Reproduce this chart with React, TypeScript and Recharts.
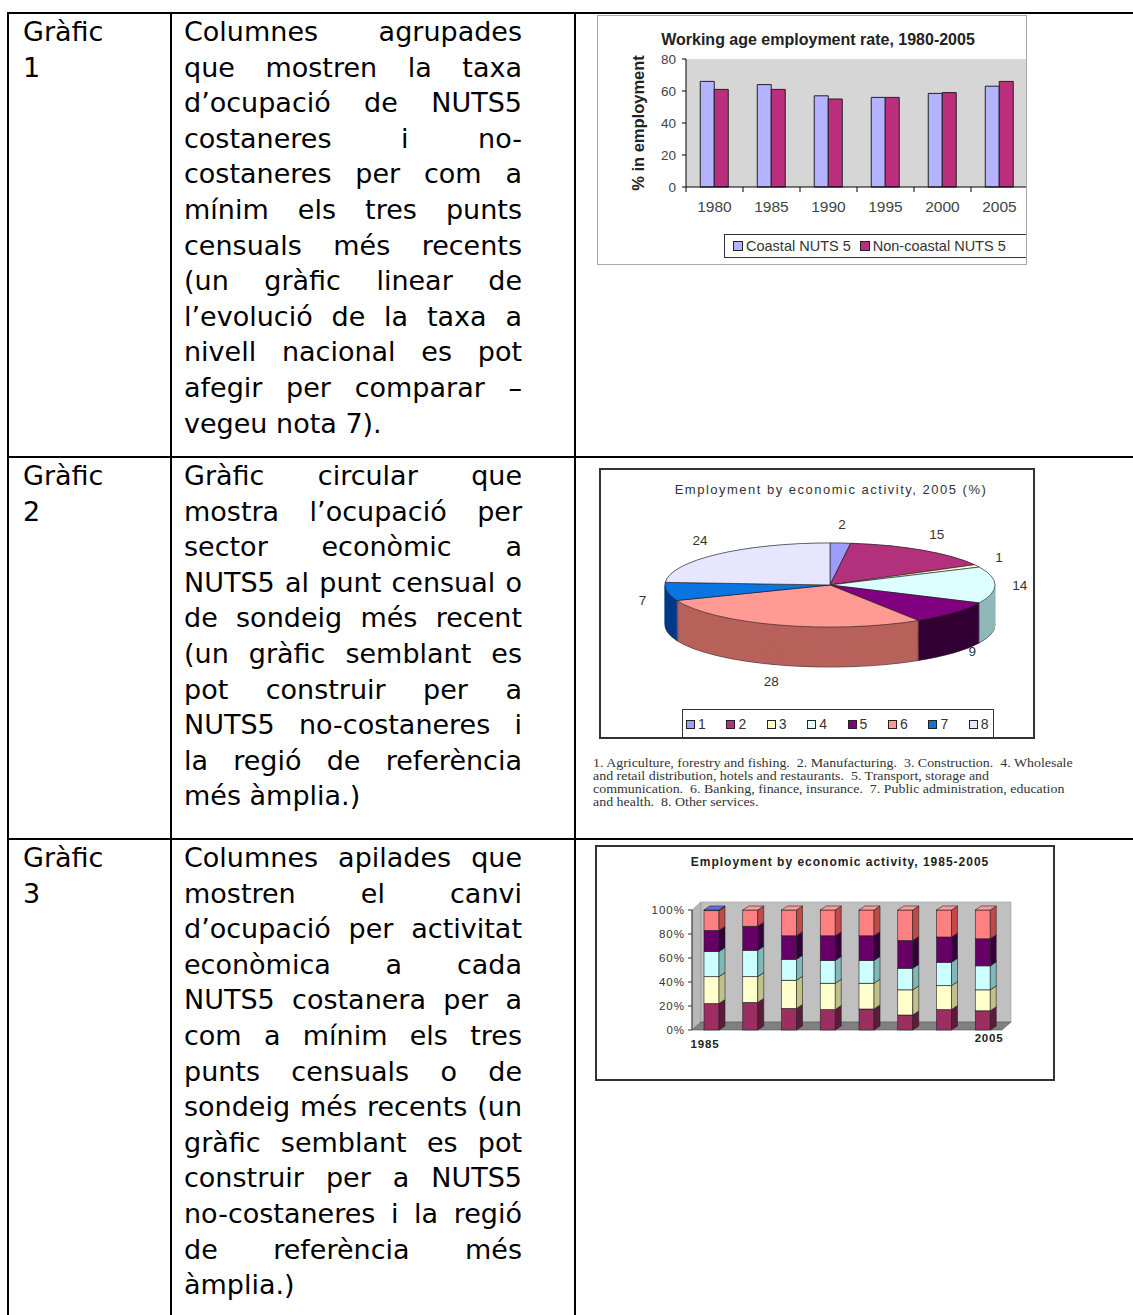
import React from 'react';
import { BarChart, Bar, XAxis, YAxis, CartesianGrid, PieChart, Pie, Cell, ReferenceArea, Label } from 'recharts';

// ---------------- table text ----------------
const rowHeadings = [['Gràfic', '1'], ['Gràfic', '2'], ['Gràfic', '3']];
const row1Lines = [
  'Columnes agrupades',
  'que mostren la taxa',
  'd’ocupació de NUTS5',
  'costaneres i no-',
  'costaneres per com a',
  'mínim els tres punts',
  'censuals més recents',
  '(un gràfic linear de',
  'l’evolució de la taxa a',
  'nivell nacional es pot',
  'afegir per comparar –',
  'vegeu nota 7).',
];
const row2Lines = [
  'Gràfic circular que',
  'mostra l’ocupació per',
  'sector econòmic a',
  'NUTS5 al punt censual o',
  'de sondeig més recent',
  '(un gràfic semblant es',
  'pot construir per a',
  'NUTS5 no-costaneres i',
  'la regió de referència',
  'més àmplia.)',
];
const row3Lines = [
  'Columnes apilades que',
  'mostren el canvi',
  'd’ocupació per activitat',
  'econòmica a cada',
  'NUTS5 costanera per a',
  'com a mínim els tres',
  'punts censuals o de',
  'sondeig més recents (un',
  'gràfic semblant es pot',
  'construir per a NUTS5',
  'no-costaneres i la regió',
  'de referència més',
  'àmplia.)',
];

// ---------------- chart 1 data ----------------
const years = ['1980', '1985', '1990', '1995', '2000', '2005'];
const coastalRate = [66, 64, 57, 56, 58.5, 63];
const nonCoastalRate = [61, 61, 55, 56, 59, 66];
const rateTicks = [0, 20, 40, 60, 80];
const chart1Title = 'Working age employment rate, 1980-2005';
const chart1YLabel = '% in employment';
const chart1Series = ['Coastal NUTS 5', 'Non-coastal NUTS 5'];

// ---------------- chart 2 data ----------------
const sectorIds = ['1', '2', '3', '4', '5', '6', '7', '8'];
const sectorShare2005 = [2, 15, 1, 14, 9, 28, 7, 24];
const chart2Title = 'Employment by economic activity, 2005 (%)';
const sectorNoteLines = [
  '1. Agriculture, forestry and fishing.  2. Manufacturing.  3. Construction.  4. Wholesale',
  'and retail distribution, hotels and restaurants.  5. Transport, storage and',
  'communication.  6. Banking, finance, insurance.  7. Public administration, education',
  'and health.  8. Other services.',
];

// ---------------- chart 3 data ----------------
const columnIds = ['c1', 'c2', 'c3', 'c4', 'c5', 'c6', 'c7', 'c8'];
const columnTickLabels = ['1985', '', '', '', '', '', '', '2005'];
const shareManufacturing = [22, 23, 18, 17, 17.5, 12.5, 17, 16];
const shareConstruction = [22.5, 21.5, 23.5, 22, 21.5, 21, 20, 17.5];
const shareWholesale = [21, 22, 17.5, 19, 19, 18, 19.5, 20];
const shareTransport = [17.5, 20, 19.5, 20.5, 20.5, 23, 21, 22.5];
const shareBanking = [16.5, 13.5, 21.5, 21.5, 21.5, 25.5, 22.5, 24];
const shareAgriculture = [0.5, 0, 0, 0, 0, 0, 0, 0];
const shareTicks = [0, 20, 40, 60, 80, 100];
const chart3Title = 'Employment by economic activity, 1985-2005';

// ---------------- styles ----------------
const ARIAL = '"Liberation Sans", Arial, sans-serif';
const VERDANA = '"DejaVu Sans", Verdana, sans-serif';
const TIMES = '"Liberation Serif", "Times New Roman", serif';

const c1Colors = ['#b3b3ff', '#bb2d7d'];
const pieTop = ['#9d9dff', '#b3307c', '#ffffcc', '#ddffff', '#80007f', '#ff9a94', '#0a74e0', '#e6e6ff'];
const pieSide = ['#5a5ab0', '#6e1a4a', '#b0b080', '#8fb9b9', '#330033', '#b8625c', '#003a8a', '#8c8cb0'];
const stackFront = ['#9b2f62', '#ffffcc', '#ccffff', '#660066', '#ff8080', '#7070e0'];
const stackSide = ['#5a1c3a', '#c0c08a', '#80b8b8', '#33003a', '#c04a4a', '#4040a0'];
const stackTopFace = ['#b0507a', '#ffffe0', '#e0ffff', '#800080', '#ff9a9a', '#6a6ae8'];

// ---------------- table ----------------
const LINE_H = 35.6;

function TextCell({ lines, left, top, width, justify }: any) {
  return (
    <div style={{ position: 'absolute', left, top, width, fontFamily: VERDANA, fontSize: 27, color: '#000' }}>
      {lines.map((ln: string, i: number) => (
        <div
          key={i}
          style={{
            height: LINE_H,
            lineHeight: LINE_H + 'px',
            textAlign: justify ? 'justify' : 'left',
            textAlignLast: justify && i < lines.length - 1 ? 'justify' : 'left',
            whiteSpace: justify ? 'normal' : 'nowrap',
          } as any}
        >
          {ln}
        </div>
      ))}
    </div>
  );
}

function TableFrame() {
  const hLines = [12, 456, 838];
  const vLines = [7, 170, 574];
  return (
    <>
      {hLines.map((y) => (
        <div key={'h' + y} style={{ position: 'absolute', left: 7, top: y, width: 1133 - 7, height: 2, background: '#000' }} />
      ))}
      {vLines.map((x) => (
        <div key={'v' + x} style={{ position: 'absolute', left: x, top: 12, width: 2, height: 1315 - 12, background: '#000' }} />
      ))}
    </>
  );
}

// ---------------- chart 1 ----------------
const data1 = years.map((y, i) => ({ year: y, coastal: coastalRate[i], nonCoastal: nonCoastalRate[i] }));

const YearTick = (props: any) => {
  const { x, y, payload } = props;
  const off = payload && payload.offset ? payload.offset : 0;
  return (
    <g>
      <line x1={x - off} x2={x - off} y1={y - 14} y2={y - 9} stroke="#000" />
      <text x={x} y={y} dy="0.71em" textAnchor="middle" fontSize={15.5} fill="#444" fontFamily={ARIAL}>
        {payload.value}
      </text>
    </g>
  );
};

const YLabel1 = (props: any) => {
  const vb = props.viewBox || { x: 0, y: 44, width: 89, height: 128 };
  const cx = vb.x + 41;
  const cy = vb.y + vb.height / 2;
  return (
    <text x={cx} y={cy} transform={`rotate(-90 ${cx} ${cy})`} textAnchor="middle" dominantBaseline="central"
      fontSize={16.5} fontWeight="bold" fill="#222" fontFamily={ARIAL}>
      {chart1YLabel}
    </text>
  );
};

function Chart1() {
  return (
    <div style={{ position: 'absolute', left: 597, top: 15, width: 430, height: 250, overflow: 'hidden', background: '#fff' }}>
      <div style={{ position: 'absolute', left: 221, top: 16, transform: 'translateX(-50%)', whiteSpace: 'nowrap',
        fontFamily: ARIAL, fontWeight: 'bold', fontSize: 16, lineHeight: '18px', color: '#222' }}>
        {chart1Title}
      </div>
      <BarChart width={431} height={250} data={data1} margin={{ top: 44, right: 0, bottom: 48, left: 0 }}
        barCategoryGap="25%" barGap={0}>
        <CartesianGrid horizontal={false} vertical={false} fill="#d6d6d6" stroke="none" />
        <XAxis dataKey="year" axisLine={{ stroke: '#000' }} tickLine={false} tickSize={4} tickMargin={10}
          height={30} tick={<YearTick />} interval={0} />
        <YAxis domain={[0, 80]} ticks={rateTicks} width={89} axisLine={{ stroke: '#000' }}
          tickLine={{ stroke: '#000' }} tickSize={4} tickMargin={6}
          tick={{ fontSize: 13.5, fill: '#444', fontFamily: ARIAL }}>
          <Label content={YLabel1} />
        </YAxis>
        <Bar dataKey="coastal" name={chart1Series[0]} fill={c1Colors[0]} stroke="#222" strokeWidth={1} isAnimationActive={false} />
        <Bar dataKey="nonCoastal" name={chart1Series[1]} fill={c1Colors[1]} stroke="#222" strokeWidth={1} isAnimationActive={false} />
      </BarChart>
      <div style={{ position: 'absolute', left: 127, top: 219, width: 320, height: 24, border: '1px solid #333',
        boxSizing: 'border-box', display: 'flex', alignItems: 'center', fontFamily: ARIAL, fontSize: 14.5, color: '#333', whiteSpace: 'nowrap' }}>
        {chart1Series.map((s, i) => (
          <div key={s} style={{ display: 'flex', alignItems: 'center', marginLeft: i === 0 ? 8 : 9 }}>
            <span style={{ display: 'inline-block', width: 8, height: 8, background: c1Colors[i], border: '1px solid #222', marginRight: 3 }} />
            <span>{s}</span>
          </div>
        ))}
      </div>
      <div style={{ position: 'absolute', left: 0, top: 0, width: 430, height: 250, border: '1px solid #a8a8a8', boxSizing: 'border-box' }} />
    </div>
  );
}

// ---------------- chart 2 ----------------
const pieData = sectorIds.map((id, i) => ({ name: id, value: sectorShare2005[i] }));
const SQ = 0.255; // vertical squash of the tilted pie
const PIE_CX = 231;
const PIE_CY = 117 / SQ;
const PIE_R = 165;
const DEPTH = 40; // screen px
const depthOffsets: number[] = [];
for (let d = DEPTH / SQ; d > 0; d -= 4) depthOffsets.push(d);

const renderPieLabel = (p: any) => {
  const a = (p.midAngle * Math.PI) / 180;
  const cos = Math.cos(a);
  const sin = Math.sin(a);
  const X = p.cx + cos * p.outerRadius * 1.15;
  let Y = p.cy * SQ - sin * p.outerRadius * SQ * 1.45;
  if (sin < 0) Y += -sin * DEPTH;
  const Yu = Y / SQ;
  return (
    <text key={'lbl' + p.index} transform={`translate(${X},${Yu}) scale(1,${1 / SQ})`} textAnchor="middle"
      dominantBaseline="central" fontSize={13.5} fill="#333" fontFamily={ARIAL}>
      {p.value}
    </text>
  );
};

function Chart2() {
  const H = Math.ceil((117 + 60 + DEPTH + 20) / SQ);
  return (
    <div style={{ position: 'absolute', left: 599, top: 468, width: 436, height: 271, overflow: 'hidden', background: '#fff' }}>
      <div style={{ position: 'absolute', left: 0, top: 0, width: 436, height: H, transform: `scaleY(${SQ})`, transformOrigin: '0 0' }}>
        <PieChart width={436} height={H} margin={{ top: 0, right: 0, bottom: 0, left: 0 }}>
          {depthOffsets.map((d, k) => (
            <Pie key={'d' + k} data={pieData} dataKey="value" nameKey="name" cx={PIE_CX} cy={PIE_CY + d}
              outerRadius={PIE_R} startAngle={90} endAngle={-270} isAnimationActive={false}
              stroke={k === 0 ? '#222' : 'none'}>
              {pieData.map((e, i) => (
                <Cell key={e.name} fill={pieSide[i]} stroke={k === 0 ? '#222' : pieSide[i]} strokeWidth={1}
                  vectorEffect="non-scaling-stroke" />
              ))}
            </Pie>
          ))}
          <Pie data={pieData} dataKey="value" nameKey="name" cx={PIE_CX} cy={PIE_CY} outerRadius={PIE_R}
            startAngle={90} endAngle={-270} isAnimationActive={false} label={renderPieLabel} labelLine={false}>
            {pieData.map((e, i) => (
              <Cell key={e.name} fill={pieTop[i]} stroke="#222" strokeWidth={1} vectorEffect="non-scaling-stroke" />
            ))}
          </Pie>
        </PieChart>
      </div>
      <div style={{ position: 'absolute', left: 232, top: 14, transform: 'translateX(-50%)', whiteSpace: 'nowrap',
        fontFamily: ARIAL, fontSize: 13, letterSpacing: 1.5, lineHeight: '16px', color: '#333' }}>
        {chart2Title}
      </div>
      <div style={{ position: 'absolute', left: 83, top: 241, width: 312, height: 40, border: '1px solid #333',
        boxSizing: 'border-box', fontFamily: ARIAL, fontSize: 14, color: '#333' }}>
        {sectorIds.map((id, i) => (
          <div key={id} style={{ position: 'absolute', left: 3 + i * 40.4, top: 6, display: 'flex', alignItems: 'center', lineHeight: '16px' }}>
            <span style={{ display: 'inline-block', width: 7, height: 7, background: pieTop[i], border: '1px solid #222', marginRight: 3 }} />
            <span>{id}</span>
          </div>
        ))}
      </div>
      <div style={{ position: 'absolute', left: 0, top: 0, width: 436, height: 271, border: '2px solid #333', boxSizing: 'border-box' }} />
    </div>
  );
}

function SectorNotes() {
  return (
    <div style={{ position: 'absolute', left: 593, top: 757, fontFamily: TIMES, fontSize: 12.5, color: '#333',
      transform: 'scaleX(1.114)', transformOrigin: '0 0' }}>
      {sectorNoteLines.map((ln, i) => (
        <div key={i} style={{ height: 13, lineHeight: '13px', whiteSpace: 'pre' }}>{ln}</div>
      ))}
    </div>
  );
}

// ---------------- chart 3 ----------------
const data3 = columnIds.map((id, i) => ({
  id,
  manufacturing: shareManufacturing[i],
  construction: shareConstruction[i],
  wholesale: shareWholesale[i],
  transport: shareTransport[i],
  banking: shareBanking[i],
  agriculture: shareAgriculture[i],
}));
const stackKeys = ['manufacturing', 'construction', 'wholesale', 'transport', 'banking', 'agriculture'];
const BDX = 6;
const BDY = 4;

const makeBar3D = (si: number) => (p: any) => {
  const { x, y, width, height } = p;
  if (!height || height < 0.2) return <g />;
  const r = x + width;
  return (
    <g>
      <rect x={x} y={y} width={width} height={height} fill={stackFront[si]} stroke="#222" strokeWidth={0.6} />
      <polygon points={`${r},${y} ${r + BDX},${y - BDY} ${r + BDX},${y + height - BDY} ${r},${y + height}`}
        fill={stackSide[si]} stroke="#222" strokeWidth={0.6} />
      <polygon points={`${x},${y} ${x + BDX},${y - BDY} ${r + BDX},${y - BDY} ${r},${y}`}
        fill={stackTopFace[si]} stroke="#222" strokeWidth={0.6} />
    </g>
  );
};

const WDX = 9;
const WDY = 8;
const WallShape = (p: any) => {
  const { x, y, width, height } = p;
  const b = y + height;
  return (
    <g>
      <polygon points={`${x},${y} ${x + WDX},${y - WDY} ${x + WDX},${b - WDY} ${x},${b}`} fill="#b8b8b8" stroke="#888" strokeWidth={0.6} />
      <rect x={x + WDX} y={y - WDY} width={width} height={height} fill="#c0c0c0" stroke="#999" strokeWidth={0.6} />
      <polygon points={`${x},${b} ${x + WDX},${b - WDY} ${x + width + WDX},${b - WDY} ${x + width},${b}`} fill="#808080" stroke="#555" strokeWidth={0.6} />
    </g>
  );
};

const ColumnTick = (props: any) => {
  const { x, y, payload, index } = props;
  const i = typeof index === 'number' ? index : columnIds.indexOf(payload.value);
  const txt = columnTickLabels[i] || '';
  if (!txt) return <g />;
  const first = i === 0;
  return (
    <text x={first ? x + 8 : x - 8} y={first ? y + 4 : y - 2} dy="0.71em" textAnchor={first ? 'end' : 'start'}
      fontSize={11.5} fontWeight="bold" letterSpacing={0.8} fill="#222" fontFamily={ARIAL}>
      {txt}
    </text>
  );
};

function Chart3() {
  return (
    <div style={{ position: 'absolute', left: 595, top: 845, width: 460, height: 236, overflow: 'hidden', background: '#fff' }}>
      <div style={{ position: 'absolute', left: 245, top: 10, transform: 'translateX(-50%)', whiteSpace: 'nowrap',
        fontFamily: ARIAL, fontWeight: 'bold', fontSize: 12, letterSpacing: 1, lineHeight: '15px', color: '#222' }}>
        {chart3Title}
      </div>
      <BarChart width={460} height={236} data={data3} margin={{ top: 65, right: 53, bottom: 31, left: 0 }} barSize={15}>
        <ReferenceArea y1={0} y2={100} shape={WallShape} ifOverflow="visible" />
        <XAxis dataKey="id" axisLine={false} tickLine={false} tickSize={0} tickMargin={6} height={20}
          interval={0} tick={<ColumnTick />} />
        <YAxis domain={[0, 100]} ticks={shareTicks} width={97} axisLine={{ stroke: '#333' }}
          tickLine={{ stroke: '#333' }} tickSize={4} tickMargin={3} tickFormatter={(v: number) => `${v}%`}
          tick={{ fontSize: 11.5, fill: '#333', fontFamily: ARIAL, letterSpacing: 1 }} />
        {stackKeys.map((k, si) => (
          <Bar key={k} dataKey={k} stackId="s" fill={stackFront[si]} shape={makeBar3D(si)} isAnimationActive={false} />
        ))}
      </BarChart>
      <div style={{ position: 'absolute', left: 0, top: 0, width: 460, height: 236, border: '2px solid #333', boxSizing: 'border-box' }} />
    </div>
  );
}

export default function App() {
  return (
    <div style={{ position: 'absolute', left: 0, top: 0, width: 1133, height: 1315, background: '#fff', overflow: 'hidden' }}>
      <TableFrame />
      {rowHeadings.map((h, i) => (
        <TextCell key={'h' + i} lines={h} left={23} top={[14, 458, 840][i]} width={140} justify={false} />
      ))}
      <TextCell lines={row1Lines} left={184} top={14} width={338} justify />
      <TextCell lines={row2Lines} left={184} top={458} width={338} justify />
      <TextCell lines={row3Lines} left={184} top={840} width={338} justify />
      <Chart1 />
      <Chart2 />
      <SectorNotes />
      <Chart3 />
    </div>
  );
}
